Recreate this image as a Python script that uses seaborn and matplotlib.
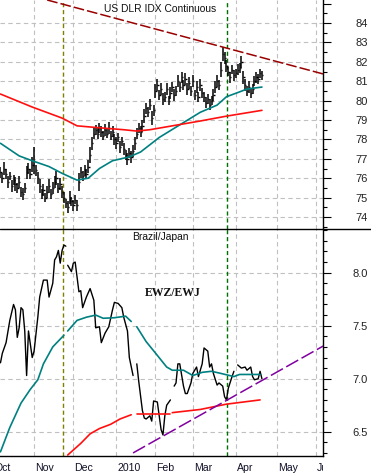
import numpy as np
import pandas as pd
import matplotlib.pyplot as plt
import seaborn as sns
from matplotlib.lines import Line2D
from matplotlib.transforms import Bbox, TransformedBbox, blended_transform_factory

sns.set_style("white")
plt.rcParams['font.family'] = ['Liberation Sans', 'DejaVu Sans']

# x axis = trading days counted from 1 Oct 2009
month_labels = ['Oct', 'Nov', 'Dec', '2010', 'Feb', 'Mar', 'Apr', 'May', 'Jun']
month_starts = [0, 22, 43, 66, 87, 107, 130, 152, 173]

# US dollar index daily bars (close and high-low range), first bar on day 4
dx_first_day = 4
dx_close = [
    76.3, 76.0, 76.5, 76.2, 75.8, 76.1, 75.6, 75.9, 75.7, 75.5, 75.8,
    75.3, 75.2, 75.5,
    76.3, 76.5, 76.2, 76.7, 76.9, 76.4,
    76.0, 75.6, 75.2, 75.4, 75.0, 75.3, 75.6, 75.2, 75.5, 75.8,
    76.0, 75.5, 75.7, 75.3,
    75.0, 74.7, 74.5, 75.0, 74.8, 74.6, 74.9, 74.6,
    75.8, 76.3, 76.1, 76.4, 76.2, 76.6,
    77.2, 77.8, 78.3,
    78.5, 78.3, 78.6, 78.4, 78.2, 78.5, 78.3, 78.6, 78.2, 78.4, 78.0,
    77.8, 78.1, 77.6, 77.9, 77.5,
    77.2, 77.0, 77.3, 77.1, 77.4,
    77.8, 78.3, 78.6, 78.4, 78.7,
    79.2, 79.6, 79.4, 79.8, 79.1, 79.5,
    80.5, 80.8, 80.3, 80.6, 80.1,
    80.2, 80.6, 80.0, 80.4, 80.7, 80.3, 80.5,
    81.0, 80.7, 81.2, 80.8, 81.1, 80.6,
    80.9, 80.5, 81.0, 80.3, 80.7, 80.2, 80.8, 80.4,
    80.2, 79.9, 80.1, 79.8, 80.0, 80.3,
    80.7, 81.0, 80.8,
    81.6, 82.4, 82.2,
    81.8, 81.5, 81.2, 81.6, 81.3,
    81.4, 81.6, 81.7, 82.0, 81.2,
    80.8, 80.5, 80.7, 80.4, 80.6,
    81.0, 81.2, 81.1, 81.4, 81.3,
]
dx_range = [
    0.6, 0.5, 0.7, 0.5, 0.6, 0.4, 0.6, 0.5, 0.7, 0.5, 0.6,
    0.5, 0.6, 0.5,
    0.7, 0.6, 0.5, 0.8, 1.4, 0.6,
    0.6, 0.7, 0.5, 0.6, 0.5, 0.6, 0.7, 0.5, 0.6, 0.6,
    0.7, 0.5, 0.6, 0.6,
    0.6, 0.5, 0.6, 0.7, 0.5, 0.6, 0.5, 0.6,
    0.9, 0.6, 0.5, 0.6, 0.5, 0.7,
    0.8, 0.7, 0.6,
    0.5, 0.6, 0.5, 0.6, 0.5, 0.6, 0.5, 0.6, 0.5, 0.6, 0.6,
    0.6, 0.5, 0.6, 0.5, 0.6,
    0.5, 0.6, 0.5, 0.6, 0.6,
    0.7, 0.6, 0.5, 0.6, 0.6,
    0.7, 0.6, 0.5, 0.6, 0.7, 0.6,
    0.7, 0.6, 0.5, 0.6, 0.6,
    0.5, 0.6, 0.5, 0.6, 0.5, 0.6, 0.5,
    0.6, 0.5, 0.6, 0.5, 0.6, 0.6,
    0.6, 0.5, 0.6, 0.5, 0.6, 0.5, 0.6, 0.5,
    0.5, 0.6, 0.5, 0.6, 0.5, 0.6,
    0.6, 0.6, 0.5,
    0.8, 0.7, 0.6,
    0.6, 0.5, 0.6, 0.5, 0.6,
    0.5, 0.6, 0.5, 0.6, 0.7,
    0.6, 0.5, 0.6, 0.5, 0.5,
    0.5, 0.6, 0.5, 0.5, 0.5,
]

dx_ma50_day = [4, 14, 21, 30, 37, 45, 51, 57, 64, 73, 79, 89, 100, 111, 120, 125, 132, 136, 144]
dx_ma50 = [77.8, 77.15, 76.9, 76.6, 76.25, 75.9, 76.0, 76.5, 76.9, 77.1, 77.35, 78.1, 78.75,
           79.4, 79.77, 80.2, 80.45, 80.6, 80.7]
dx_ma200_day = [4, 21, 37, 45, 57, 70, 77, 84, 96, 111, 125, 144]
dx_ma200 = [80.34, 79.67, 79.1, 78.7, 78.6, 78.5, 78.43, 78.5, 78.7, 78.95, 79.2, 79.5]
dx_trend_day = [29, 177]
dx_trend = [85.19, 81.37]

# EWZ/EWJ ratio, None marks a break in the line
ratio_day = [4, 5, 7, 9, 11, 12, 13, 14, 15, 16, 17, 18, 19, 21, 22, 24, 25, 27, 29, 30, 32, 33, 34,
             35, 36, 37, 38, 39, None,
             40, 42, 43, 44, 45, 46, 47, 48, 50, 52, 54, 55, 57, 58, 60, 62, 64, 65, 67, 69, 70, 72,
             73, 75, None,
             77, 78, 80, 81, 82, 84, 85, 86, 88, 89, 90, 91, 92, 93, 95, None,
             97, 98, 99, 100, 102, 103, 104, 106, 107, 109, 110, 112, 113, 115, 116, 117, 118, 120,
             121, 123, 124, 125, 126, 128, 129, None,
             131, 133, 135, 136, 138, 139, 140, 142, 143, 144]
ratio_val = [7.15, 7.24, 7.34, 7.55, 7.70, 7.65, 7.39, 7.48, 7.67, 7.65, 7.45, 7.03, 7.45, 7.20,
             7.26, 7.58, 7.77, 7.93, 7.93, 7.77, 7.90, 8.12, 8.15, 8.21, 8.09, 8.21, 8.26, 8.25, None,
             8.07, 8.01, 8.09, 8.10, 7.96, 7.82, 7.83, 7.67, 7.77, 7.85, 7.74, 7.48, 7.49, 7.34,
             7.43, 7.49, 7.65, 7.72, 7.71, 7.67, 7.58, 7.45, 7.20, 7.03, None,
             7.14, 6.98, 6.70, 6.63, 6.62, 6.65, 6.60, 6.79, 6.78, 6.65, 6.52, 6.47, 6.65, 6.75,
             6.80, None,
             6.93, 6.96, 7.14, 7.14, 6.93, 6.86, 6.86, 6.96, 7.05, 7.11, 7.02, 7.14, 7.29, 7.26,
             7.11, 7.14, 7.05, 6.94, 6.96, 6.93, 6.83, 6.80, 6.91, 7.02, 7.07, None,
             7.13, 7.10, 7.11, 7.08, 7.11, 7.02, 6.99, 7.00, 7.07, 7.00]
ratio_ma50_day = [4, 9, 15, 20, 24, 27, 32, 38, None,
                  40, 45, 50, 55, 59, 65, 71, 74, None,
                  77, 82, 88, 93, 96, 102, 107, 112, 117, 122, 129, 132, 143]
ratio_ma50 = [6.31, 6.54, 6.77, 6.90, 6.99, 7.14, 7.30, 7.41, None,
              7.45, 7.55, 7.58, 7.60, 7.57, 7.575, 7.59, 7.54, None,
              7.49, 7.35, 7.22, 7.11, 7.08, 7.08, 7.03, 7.06, 7.07, 7.05, 7.02, 7.04, 7.04]
ratio_ma200_day = [40, 47, 52, 57, 63, 68, 74, None, 77, 95, None, 96, 111, 125, 143]
ratio_ma200 = [6.28, 6.39, 6.48, 6.53, 6.57, 6.62, 6.66, None, 6.67, 6.67, None, 6.68, 6.71, 6.76, 6.80]
ratio_trend_day = [75, 177]
ratio_trend = [6.30, 7.31]

olive_day = 37.5
green_day = 125.3
x_range = (3.75, 176.7)


def to_frame(days, vals):
    df = pd.DataFrame({'day': days, 'val': vals})
    df['seg'] = df['day'].isna().cumsum()
    return df.dropna()


W, H = 371, 475
fig = plt.figure(figsize=(W / 100, H / 100), dpi=100)
ax1 = fig.add_axes([0, 1 - 229 / H, 323 / W, 229 / H])
ax2 = fig.add_axes([0, 1 - 456 / H, 323 / W, 227 / H])

grid_kw = dict(color='#c0c0c0', linestyle=(0, (4, 3)), linewidth=0.8, zorder=0)
dark = '#101028'

# ---- top panel: US dollar index
days = np.arange(dx_first_day, dx_first_day + len(dx_close))
close = np.array(dx_close)
rng = np.array(dx_range)
ax1.vlines(days, close - rng / 2, close + rng / 2, color='black', linewidth=1.1, zorder=3)
ax1.hlines(close, days, days + 0.7, color='black', linewidth=1.0, zorder=3)
sns.lineplot(x=dx_ma50_day, y=dx_ma50, ax=ax1, color='#008080', linewidth=1.2, zorder=4)
sns.lineplot(x=dx_ma200_day, y=dx_ma200, ax=ax1, color='#ff1010', linewidth=1.2, zorder=4)
sns.lineplot(x=dx_trend_day, y=dx_trend, ax=ax1, color='#990000', linewidth=1.1,
             linestyle=(0, (7, 2)), zorder=4)
ax1.set_ylim(73.38, 85.19)
ax1.set_yticks(range(74, 86))
ax1.set_yticklabels([str(v) for v in range(74, 85)] + [''])
ax1.set_yticks(np.arange(73.5, 85.5, 1.0), minor=True)
for v in range(74, 85):
    ax1.axhline(v, **grid_kw)
ax1.set_xticks([])
ax1.spines['bottom'].set_visible(False)
ax1.text(0.495, 0.962, 'US DLR IDX Continuous', transform=ax1.transAxes,
         ha='center', va='center', fontsize=7.4, color='#111111')

# ---- bottom panel: EWZ/EWJ
r = to_frame(ratio_day, ratio_val)
sns.lineplot(data=r, x='day', y='val', units='seg', estimator=None, ax=ax2,
             color='black', linewidth=1.0, zorder=3)
m50 = to_frame(ratio_ma50_day, ratio_ma50)
sns.lineplot(data=m50, x='day', y='val', units='seg', estimator=None, ax=ax2,
             color='#008080', linewidth=1.2, zorder=4)
m200 = to_frame(ratio_ma200_day, ratio_ma200)
sns.lineplot(data=m200, x='day', y='val', units='seg', estimator=None, ax=ax2,
             color='#ff1010', linewidth=1.2, zorder=4)
sns.lineplot(x=ratio_trend_day, y=ratio_trend, ax=ax2, color='#8000a0', linewidth=1.1,
             linestyle=(0, (9, 2.5)), zorder=4)
ax2.set_ylim(6.271, 8.412)
ax2.set_yticks([6.5, 7.0, 7.5, 8.0])
ax2.set_yticklabels(['6.5', '7.0', '7.5', '8.0'])
ax2.set_yticks(np.arange(6.3, 8.41, 0.1), minor=True)
for v in [6.5, 7.0, 7.5, 8.0]:
    ax2.axhline(v, **grid_kw)
ax2.spines['bottom'].set_color('black')
ax2.spines['bottom'].set_linewidth(1)

# month ticks: long at month starts, short in between
minor = []
for a, b in zip(month_starts[:-1], month_starts[1:]):
    minor += list(np.linspace(a, b, 7)[1:-1])
ax2.set_xticks(month_starts)
ax2.set_xticklabels([''] * len(month_starts))
ax2.set_xticks(minor, minor=True)
ax2.tick_params(axis='x', which='major', direction='out', length=14, width=1, color=dark)
ax2.tick_params(axis='x', which='minor', direction='out', length=2.4, width=1, color=dark)

ax2.text(0.498, 0.965, 'Brazil/Japan', transform=ax2.transAxes,
         ha='center', va='center', fontsize=7.4, color='#111111')
ax2.text(0.536, 0.718, 'EWZ/EWJ', transform=ax2.transAxes, ha='center', va='center',
         fontsize=8.5, fontweight='bold', family=['Liberation Serif', 'DejaVu Serif'],
         color='#111111')

# shared styling, x range set last so the seaborn calls cannot move it
for ax in (ax1, ax2):
    ax.set_xlim(*x_range)
    ax.yaxis.tick_right()
    for s in ('left', 'top'):
        ax.spines[s].set_visible(False)
    ax.spines['right'].set_color('black')
    ax.spines['right'].set_linewidth(1)
    ax.set_xlabel('')
    ax.set_ylabel('')
    for d in month_starts[1:]:
        ax.axvline(d, **grid_kw)
    ax.axvline(olive_day, color='#808000', linestyle=(0, (3, 2)), linewidth=1, zorder=1)
    ax.axvline(green_day, color='#007000', linestyle=(0, (3, 2)), linewidth=1, zorder=1)
    ax.tick_params(axis='y', which='major', direction='out', length=6, width=0.8,
                   color='black', labelsize=8, labelcolor='#222222', pad=26.5)
    ax.tick_params(axis='y', which='minor', direction='out', length=3, width=0.8, color='black')
    for lab in ax.get_yticklabels():
        lab.set_horizontalalignment('right')

clip = TransformedBbox(Bbox([[0, 0], [323 / W, 1]]), fig.transFigure)
trans = blended_transform_factory(ax2.transData, ax2.transAxes)
for d, name in zip(month_starts, month_labels):
    t = ax2.text(d + 0.6, -0.053, name, transform=trans, ha='left', va='center',
                 fontsize=7.6, color=dark)
    t.set_clip_box(clip)
    t.set_clip_on(True)

# separator between the two panels runs across the whole figure
fig.add_artist(Line2D([0, 1], [1 - 229 / H, 1 - 229 / H], transform=fig.transFigure,
                      color='black', linewidth=1))

fig.savefig('out.png', dpi=100)
